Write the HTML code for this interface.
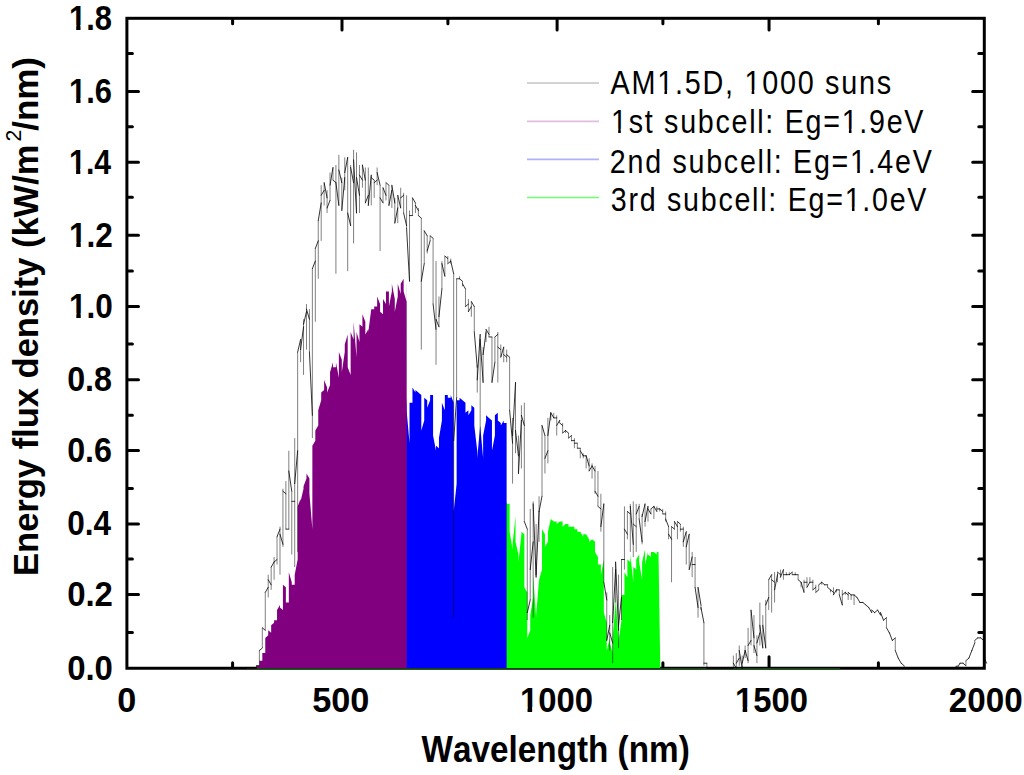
<!DOCTYPE html>
<html><head><meta charset="utf-8"><style>
html,body{margin:0;padding:0;background:#fff;width:1024px;height:775px;overflow:hidden}
svg{display:block}
text{font-family:"Liberation Sans",sans-serif;font-kerning:none;fill:#000}
</style></head><body>
<svg width="1024" height="775" viewBox="0 0 1024 775">
<rect width="1024" height="775" fill="#fff"/>
<rect x="126.9" y="18.3" width="857.4" height="649.95" fill="none" stroke="#000" stroke-width="3"/>
<path d="M232.6,666.75V662.75M232.6,19.8V23.8M342,666.75V656.65M342,19.8V29.9M447.9,666.75V662.75M447.9,19.8V23.8M557.1,666.75V656.65M557.1,19.8V29.9M662.9,666.75V662.75M662.9,19.8V23.8M769.05,666.75V656.65M769.05,19.8V29.9M878.4,666.75V662.75M878.4,19.8V23.8M128.4,632.6H132.4M982.8,632.6H978.8M128.4,594.5H138.5M982.8,594.5H972.7M128.4,558.9H132.4M982.8,558.9H978.8M128.4,523.9H138.5M982.8,523.9H972.7M128.4,488.4H132.4M982.8,488.4H978.8M128.4,450.4H138.5M982.8,450.4H972.7M128.4,415.2H132.4M982.8,415.2H978.8M128.4,379.7H138.5M982.8,379.7H972.7M128.4,344.1H132.4M982.8,344.1H978.8M128.4,306.5H138.5M982.8,306.5H972.7M128.4,270.9H132.4M982.8,270.9H978.8M128.4,235.3H138.5M982.8,235.3H972.7M128.4,197.2H132.4M982.8,197.2H978.8M128.4,162.3H138.5M982.8,162.3H972.7M128.4,126.7H132.4M982.8,126.7H978.8M128.4,91.5H138.5M982.8,91.5H972.7M128.4,53.4H132.4M982.8,53.4H978.8" stroke="#000" stroke-width="3" stroke-linecap="round" fill="none"/>
<path d="M505.96,668.25 L505.96,503.87 L506.68,501.34 L506.68,508.92 L506.68,508.92 L506.68,506.39 L506.68,503.87 L509.62,503.87 L509.62,503.87 L509.62,506.39 L509.62,513.98 L509.62,516.51 L509.62,524.1 L509.62,531.68 L512.56,549.39 L512.56,539.27 L512.56,569.62 L512.56,534.21 L512.56,559.5 L512.56,546.86 L512.56,544.33 L515.51,516.51 L515.51,521.57 L515.51,529.15 L515.51,551.92 L515.51,549.39 L515.51,541.8 L518.45,554.45 L518.45,546.86 L518.45,541.8 L518.45,554.45 L518.45,554.45 L518.45,544.33 L518.45,562.03 L521.4,534.21 L521.4,559.5 L521.4,531.68 L521.4,531.68 L521.4,524.1 L521.4,539.27 L521.4,531.68 L524.34,534.21 L524.34,536.74 L524.34,539.27 L524.34,521.57 L524.34,559.5 L524.34,564.56 L524.34,587.32 L527.28,592.38 L527.28,612.61 L527.28,622.73 L527.28,640.43 L527.28,620.2 L527.28,637.9 L527.28,637.9 L530.23,630.32 L530.23,592.38 L530.23,579.74 L530.23,597.44 L530.23,592.38 L530.23,615.14 L530.23,615.14 L533.17,597.44 L533.17,630.32 L533.17,597.44 L533.17,615.14 L533.17,574.68 L533.17,640.43 L533.17,574.68 L536.12,617.67 L536.12,602.5 L536.12,587.32 L536.12,602.5 L536.12,605.02 L536.12,615.14 L539.06,579.74 L539.06,594.91 L539.06,587.32 L539.06,579.74 L539.06,582.26 L539.06,569.62 L539.06,579.74 L542,569.62 L542,569.62 L542,569.62 L542,541.8 L542,534.21 L542,544.33 L542,529.15 L544.95,534.21 L544.95,549.39 L544.95,556.97 L544.95,551.92 L544.95,556.97 L544.95,544.33 L544.95,546.86 L547.89,541.8 L547.89,549.39 L547.89,529.15 L547.89,531.68 L547.89,536.74 L547.89,524.1 L547.89,531.68 L550.84,519.04 L550.84,521.57 L550.84,521.57 L550.84,519.04 L550.84,524.1 L550.84,519.04 L550.84,519.04 L553.78,521.57 L553.78,519.04 L553.78,519.04 L553.78,519.04 L553.78,521.57 L553.78,521.57 L553.78,521.57 L556.72,521.57 L556.72,519.04 L556.72,521.57 L556.72,521.57 L556.72,521.57 L556.72,531.68 L556.72,524.1 L559.67,521.57 L559.67,521.57 L559.67,521.57 L559.67,521.57 L559.67,521.57 L559.67,521.57 L562.61,521.57 L562.61,521.57 L562.61,524.1 L562.61,524.1 L562.61,524.1 L562.61,521.57 L562.61,526.63 L565.56,524.1 L565.56,524.1 L565.56,526.63 L565.56,526.63 L565.56,526.63 L565.56,524.1 L565.56,524.1 L568.5,524.1 L568.5,524.1 L568.5,526.63 L568.5,524.1 L568.5,526.63 L568.5,526.63 L568.5,526.63 L571.44,526.63 L571.44,526.63 L571.44,526.63 L571.44,526.63 L571.44,529.15 L571.44,526.63 L571.44,526.63 L574.39,526.63 L574.39,526.63 L574.39,529.15 L574.39,529.15 L574.39,529.15 L574.39,531.68 L574.39,529.15 L577.33,529.15 L577.33,529.15 L577.33,529.15 L577.33,529.15 L577.33,529.15 L577.33,531.68 L577.33,531.68 L580.28,531.68 L580.28,531.68 L580.28,531.68 L580.28,531.68 L580.28,536.74 L580.28,531.68 L583.22,536.74 L583.22,531.68 L583.22,534.21 L583.22,531.68 L583.22,534.21 L583.22,536.74 L583.22,534.21 L586.16,534.21 L586.16,541.8 L586.16,536.74 L586.16,534.21 L586.16,534.21 L586.16,536.74 L586.16,534.21 L589.11,539.27 L589.11,534.21 L589.11,536.74 L589.11,536.74 L589.11,536.74 L589.11,539.27 L589.11,541.8 L592.05,539.27 L592.05,536.74 L592.05,541.8 L592.05,539.27 L592.05,546.86 L592.05,544.33 L592.05,539.27 L595,541.8 L595,546.86 L595,539.27 L595,539.27 L595,554.45 L595,549.39 L595,551.92 L597.94,556.97 L597.94,539.27 L597.94,556.97 L597.94,554.45 L597.94,559.5 L597.94,556.97 L597.94,564.56 L600.88,564.56 L600.88,564.56 L600.88,554.45 L600.88,579.74 L600.88,559.5 L600.88,574.68 L600.88,574.68 L603.83,559.5 L603.83,592.38 L603.83,574.68 L603.83,607.55 L603.83,599.97 L603.83,612.61 L606.77,622.73 L606.77,650.55 L606.77,617.67 L606.77,642.96 L606.77,635.37 L606.77,625.26 L606.77,650.55 L609.72,637.9 L609.72,642.96 L609.72,635.37 L609.72,655.61 L609.72,632.84 L609.72,645.49 L609.72,642.96 L612.66,653.08 L612.66,599.97 L612.66,615.14 L612.66,632.84 L612.66,658.13 L612.66,665.72 L612.66,637.9 L615.6,602.5 L615.6,620.2 L615.6,599.97 L615.6,610.08 L615.6,622.73 L615.6,615.14 L615.6,594.91 L618.55,642.96 L618.55,635.37 L618.55,630.32 L618.55,655.61 L618.55,605.02 L618.55,617.67 L618.55,640.43 L621.49,620.2 L621.49,610.08 L621.49,612.61 L621.49,635.37 L621.49,594.91 L621.49,602.5 L621.49,594.91 L624.44,594.91 L624.44,589.85 L624.44,599.97 L624.44,587.32 L624.44,584.79 L624.44,556.97 L624.44,572.15 L627.38,577.21 L627.38,579.74 L627.38,572.15 L627.38,569.62 L627.38,567.09 L627.38,559.5 L630.32,562.03 L630.32,559.5 L630.32,559.5 L630.32,587.32 L630.32,559.5 L630.32,554.45 L630.32,554.45 L633.27,582.26 L633.27,551.92 L633.27,562.03 L633.27,559.5 L633.27,589.85 L633.27,562.03 L633.27,567.09 L636.21,569.62 L636.21,551.92 L636.21,556.97 L636.21,587.32 L636.21,567.09 L636.21,556.97 L636.21,559.5 L639.16,554.45 L639.16,556.97 L639.16,554.45 L639.16,559.5 L639.16,562.03 L639.16,551.92 L639.16,562.03 L642.1,579.74 L642.1,559.5 L642.1,562.03 L642.1,562.03 L642.1,562.03 L642.1,579.74 L642.1,562.03 L645.04,549.39 L645.04,562.03 L645.04,562.03 L645.04,567.09 L645.04,556.97 L645.04,564.56 L645.04,564.56 L647.99,551.92 L647.99,562.03 L647.99,562.03 L647.99,551.92 L647.99,554.45 L647.99,554.45 L650.93,556.97 L650.93,554.45 L650.93,551.92 L650.93,556.97 L650.93,556.97 L650.93,556.97 L650.93,551.92 L653.88,551.92 L653.88,559.5 L653.88,551.92 L653.88,551.92 L653.88,551.92 L653.88,549.39 L653.88,551.92 L656.82,554.45 L656.82,549.39 L656.82,551.92 L656.82,549.39 L656.82,551.92 L656.82,549.39 L656.82,551.92 L658.49,551.92 L660.3,668.25Z" fill="#00ff00"/>
<path d="M406.04,668.25 L406.04,397.65 L406.58,405.23 L406.58,397.65 L406.58,400.18 L406.58,410.29 L409.52,443.17 L409.52,430.52 L409.52,402.7 L409.52,402.7 L409.52,400.18 L409.52,400.18 L409.52,402.7 L412.47,402.7 L412.47,397.65 L412.47,392.59 L412.47,392.59 L412.47,395.12 L412.47,392.59 L412.47,387.53 L415.41,392.59 L415.41,392.59 L415.41,395.12 L415.41,392.59 L415.41,392.59 L415.41,395.12 L415.41,390.06 L418.36,392.59 L418.36,390.06 L418.36,392.59 L418.36,392.59 L418.36,392.59 L418.36,390.06 L418.36,392.59 L421.3,395.12 L421.3,395.12 L421.3,400.18 L421.3,473.52 L421.3,443.17 L421.3,440.64 L421.3,430.52 L424.24,420.41 L424.24,412.82 L424.24,412.82 L424.24,415.35 L424.24,410.29 L424.24,410.29 L424.24,397.65 L427.19,400.18 L427.19,405.23 L427.19,407.76 L427.19,410.29 L427.19,410.29 L427.19,407.76 L430.13,400.18 L430.13,397.65 L430.13,397.65 L430.13,397.65 L430.13,400.18 L430.13,397.65 L430.13,395.12 L433.08,395.12 L433.08,397.65 L433.08,400.18 L433.08,397.65 L433.08,405.23 L433.08,402.7 L433.08,435.58 L436.02,450.76 L436.02,473.52 L436.02,460.87 L436.02,438.11 L436.02,407.76 L436.02,425.47 L436.02,445.7 L438.96,448.23 L438.96,438.11 L438.96,438.11 L438.96,445.7 L438.96,445.7 L438.96,428 L438.96,438.11 L441.91,420.41 L441.91,412.82 L441.91,402.7 L441.91,405.23 L441.91,407.76 L441.91,407.76 L441.91,402.7 L444.85,410.29 L444.85,405.23 L444.85,405.23 L444.85,405.23 L444.85,397.65 L444.85,395.12 L444.85,395.12 L447.8,395.12 L447.8,395.12 L447.8,397.65 L447.8,397.65 L447.8,397.65 L447.8,397.65 L450.74,397.65 L450.74,397.65 L450.74,392.59 L450.74,395.12 L450.74,397.65 L450.74,397.65 L450.74,395.12 L453.68,402.7 L453.68,607.55 L453.68,632.84 L453.68,513.98 L453.68,582.26 L453.68,546.86 L453.68,511.45 L456.63,483.63 L456.63,448.23 L456.63,415.35 L456.63,412.82 L456.63,405.23 L456.63,402.7 L456.63,400.18 L459.57,400.18 L459.57,400.18 L459.57,400.18 L459.57,397.65 L459.57,400.18 L459.57,400.18 L459.57,397.65 L462.52,400.18 L462.52,400.18 L462.52,400.18 L462.52,400.18 L462.52,402.7 L462.52,400.18 L462.52,400.18 L465.46,402.7 L465.46,405.23 L465.46,405.23 L465.46,412.82 L465.46,410.29 L465.46,412.82 L465.46,412.82 L468.4,410.29 L468.4,410.29 L468.4,415.35 L468.4,410.29 L468.4,405.23 L468.4,410.29 L468.4,415.35 L471.35,410.29 L471.35,410.29 L471.35,415.35 L471.35,412.82 L471.35,417.88 L471.35,405.23 L474.29,407.76 L474.29,410.29 L474.29,415.35 L474.29,415.35 L474.29,415.35 L474.29,420.41 L474.29,425.47 L477.24,450.76 L477.24,450.76 L477.24,465.93 L477.24,460.87 L477.24,468.46 L477.24,448.23 L477.24,458.34 L480.18,425.47 L480.18,435.58 L480.18,503.87 L480.18,438.11 L480.18,430.52 L480.18,438.11 L480.18,425.47 L483.12,458.34 L483.12,438.11 L483.12,443.17 L483.12,440.64 L483.12,445.7 L483.12,430.52 L483.12,435.58 L486.07,420.41 L486.07,425.47 L486.07,417.88 L486.07,420.41 L486.07,417.88 L486.07,415.35 L486.07,415.35 L489.01,417.88 L489.01,415.35 L489.01,420.41 L489.01,412.82 L489.01,412.82 L489.01,417.88 L489.01,417.88 L491.96,420.41 L491.96,443.17 L491.96,420.41 L491.96,422.94 L491.96,422.94 L491.96,450.76 L494.9,435.58 L494.9,420.41 L494.9,415.35 L494.9,415.35 L494.9,415.35 L494.9,415.35 L494.9,415.35 L497.84,412.82 L497.84,410.29 L497.84,415.35 L497.84,420.41 L497.84,448.23 L497.84,430.52 L497.84,420.41 L500.79,422.94 L500.79,417.88 L500.79,420.41 L500.79,417.88 L500.79,417.88 L500.79,422.94 L500.79,425.47 L503.73,420.41 L503.73,417.88 L503.73,417.88 L503.73,422.94 L503.73,420.41 L503.73,428 L503.73,422.94 L506.68,422.94 L506.68,422.94 L506.68,417.88 L506.61,425.47 L506.61,668.25Z" fill="#0000ff"/>
<path d="M255.51,668.25 L255.51,668.25 L256.44,668.25 L256.44,668.25 L256.44,668.25 L256.44,668.25 L256.44,668.25 L256.44,668.25 L256.44,668.25 L256.44,668.25 L256.44,668.25 L256.44,668.25 L256.44,665.72 L259.38,665.72 L259.38,665.72 L259.38,665.72 L259.38,665.72 L259.38,665.72 L259.38,665.72 L259.38,665.72 L259.38,665.72 L259.38,663.19 L259.38,663.19 L259.38,660.66 L259.38,660.66 L259.38,660.66 L262.32,660.66 L262.32,660.66 L262.32,660.66 L262.32,658.13 L262.32,658.13 L262.32,658.13 L262.32,658.13 L262.32,658.13 L262.32,655.61 L262.32,655.61 L262.32,653.08 L262.32,653.08 L262.32,653.08 L262.32,653.08 L265.27,653.08 L265.27,650.55 L265.27,648.02 L265.27,648.02 L265.27,648.02 L265.27,650.55 L265.27,650.55 L265.27,650.55 L265.27,648.02 L265.27,645.49 L265.27,645.49 L265.27,645.49 L265.27,640.43 L265.27,637.9 L268.21,635.37 L268.21,635.37 L268.21,635.37 L268.21,637.9 L268.21,637.9 L268.21,632.84 L268.21,627.79 L268.21,627.79 L268.21,630.32 L268.21,632.84 L268.21,632.84 L268.21,630.32 L268.21,630.32 L268.21,630.32 L271.16,632.84 L271.16,630.32 L271.16,627.79 L271.16,627.79 L271.16,627.79 L271.16,630.32 L271.16,632.84 L271.16,635.37 L271.16,632.84 L271.16,627.79 L271.16,627.79 L271.16,625.26 L271.16,625.26 L274.1,622.73 L274.1,622.73 L274.1,625.26 L274.1,625.26 L274.1,622.73 L274.1,620.2 L274.1,620.2 L274.1,622.73 L274.1,627.79 L274.1,630.32 L274.1,622.73 L274.1,620.2 L274.1,622.73 L274.1,620.2 L277.04,620.2 L277.04,620.2 L277.04,620.2 L277.04,620.2 L277.04,622.73 L277.04,620.2 L277.04,615.14 L277.04,610.08 L277.04,612.61 L277.04,615.14 L277.04,615.14 L277.04,617.67 L277.04,615.14 L277.04,610.08 L279.99,605.02 L279.99,605.02 L279.99,605.02 L279.99,605.02 L279.99,610.08 L279.99,612.61 L279.99,620.2 L279.99,617.67 L279.99,622.73 L279.99,625.26 L279.99,617.67 L279.99,607.55 L279.99,602.5 L279.99,607.55 L282.93,610.08 L282.93,612.61 L282.93,610.08 L282.93,602.5 L282.93,599.97 L282.93,602.5 L282.93,599.97 L282.93,599.97 L282.93,597.44 L282.93,589.85 L282.93,584.79 L282.93,584.79 L282.93,584.79 L285.88,587.32 L285.88,592.38 L285.88,592.38 L285.88,587.32 L285.88,582.26 L285.88,579.74 L285.88,587.32 L285.88,587.32 L285.88,582.26 L285.88,587.32 L285.88,592.38 L285.88,594.91 L285.88,602.5 L285.88,602.5 L288.82,602.5 L288.82,597.44 L288.82,589.85 L288.82,587.32 L288.82,587.32 L288.82,582.26 L288.82,569.62 L288.82,562.03 L288.82,564.56 L288.82,577.21 L288.82,584.79 L288.82,579.74 L288.82,574.68 L288.82,572.15 L291.76,582.26 L291.76,594.91 L291.76,605.02 L291.76,610.08 L291.76,612.61 L291.76,602.5 L291.76,589.85 L291.76,582.26 L291.76,584.79 L291.76,587.32 L291.76,584.79 L291.76,584.79 L291.76,584.79 L291.76,584.79 L294.71,584.79 L294.71,577.21 L294.71,567.09 L294.71,562.03 L294.71,562.03 L294.71,554.45 L294.71,554.45 L294.71,562.03 L294.71,579.74 L294.71,605.02 L294.71,617.67 L294.71,602.5 L294.71,574.68 L297.65,559.5 L297.65,551.92 L297.65,564.56 L297.65,592.38 L297.65,610.08 L297.65,582.26 L297.65,551.92 L297.65,529.15 L297.65,519.04 L297.65,513.98 L297.65,513.98 L297.65,506.39 L300.6,498.81 L300.6,503.87 L300.6,501.34 L300.6,503.87 L300.6,506.39 L300.6,508.92 L300.6,501.34 L303.54,488.69 L303.54,513.98 L303.54,496.28 L303.54,483.63 L303.54,491.22 L303.54,491.22 L303.54,486.16 L306.48,478.58 L306.48,483.63 L306.48,488.69 L306.48,481.1 L306.48,496.28 L306.48,473.52 L306.48,473.52 L309.43,478.58 L309.43,481.1 L309.43,473.52 L309.43,478.58 L309.43,483.63 L309.43,481.1 L309.43,493.75 L312.37,529.15 L312.37,541.8 L312.37,455.81 L312.37,470.99 L312.37,483.63 L312.37,465.93 L312.37,445.7 L315.32,440.64 L315.32,465.93 L315.32,473.52 L315.32,445.7 L315.32,448.23 L315.32,430.52 L318.26,425.47 L318.26,430.52 L318.26,422.94 L318.26,445.7 L318.26,415.35 L318.26,410.29 L318.26,410.29 L321.2,400.18 L321.2,390.06 L321.2,400.18 L321.2,420.41 L321.2,400.18 L321.2,402.7 L321.2,392.59 L324.15,390.06 L324.15,395.12 L324.15,395.12 L324.15,397.65 L324.15,385 L324.15,382.47 L324.15,379.94 L327.09,387.53 L327.09,390.06 L327.09,385 L327.09,395.12 L327.09,382.47 L327.09,382.47 L327.09,392.59 L330.04,385 L330.04,369.83 L330.04,379.94 L330.04,377.42 L330.04,367.3 L330.04,374.89 L330.04,372.36 L332.98,362.24 L332.98,367.3 L332.98,362.24 L332.98,359.71 L332.98,359.71 L332.98,362.24 L332.98,367.3 L335.92,367.3 L335.92,422.94 L335.92,392.59 L335.92,369.83 L335.92,385 L335.92,352.12 L335.92,362.24 L338.87,377.42 L338.87,354.65 L338.87,362.24 L338.87,342.01 L338.87,357.18 L338.87,352.12 L341.81,359.71 L341.81,359.71 L341.81,359.71 L341.81,367.3 L341.81,367.3 L341.81,352.12 L341.81,372.36 L344.76,352.12 L344.76,336.95 L344.76,352.12 L344.76,357.18 L344.76,342.01 L344.76,349.6 L344.76,344.54 L347.7,334.42 L347.7,354.65 L347.7,359.71 L347.7,349.6 L347.7,347.07 L347.7,405.23 L347.7,367.3 L350.64,374.89 L350.64,347.07 L350.64,344.54 L350.64,336.95 L350.64,354.65 L350.64,329.36 L350.64,331.89 L353.59,339.48 L353.59,379.94 L353.59,339.48 L353.59,321.78 L353.59,334.42 L353.59,316.72 L353.59,321.78 L356.53,357.18 L356.53,334.42 L356.53,329.36 L356.53,314.19 L356.53,339.48 L356.53,321.78 L356.53,331.89 L359.48,342.01 L359.48,354.65 L359.48,324.31 L359.48,329.36 L359.48,316.72 L359.48,324.31 L362.42,326.84 L362.42,321.78 L362.42,331.89 L362.42,319.25 L362.42,321.78 L362.42,321.78 L362.42,314.19 L365.36,321.78 L365.36,314.19 L365.36,311.66 L365.36,316.72 L365.36,324.31 L365.36,316.72 L365.36,334.42 L368.31,329.36 L368.31,309.13 L368.31,324.31 L368.31,311.66 L368.31,316.72 L368.31,314.19 L368.31,331.89 L371.25,309.13 L371.25,311.66 L371.25,321.78 L371.25,319.25 L371.25,329.36 L371.25,311.66 L371.25,309.13 L374.2,309.13 L374.2,316.72 L374.2,319.25 L374.2,309.13 L374.2,319.25 L374.2,314.19 L374.2,306.6 L377.14,306.6 L377.14,299.02 L377.14,293.96 L377.14,293.96 L377.14,296.49 L377.14,304.07 L377.14,296.49 L380.08,304.07 L380.08,352.12 L380.08,331.89 L380.08,309.13 L380.08,314.19 L380.08,309.13 L380.08,311.66 L383.03,314.19 L383.03,304.07 L383.03,301.55 L383.03,304.07 L383.03,304.07 L383.03,299.02 L385.97,304.07 L385.97,309.13 L385.97,301.55 L385.97,293.96 L385.97,293.96 L385.97,293.96 L385.97,291.43 L388.92,291.43 L388.92,293.96 L388.92,293.96 L388.92,296.49 L388.92,291.43 L388.92,293.96 L388.92,306.6 L391.86,291.43 L391.86,301.55 L391.86,304.07 L391.86,291.43 L391.86,288.9 L391.86,286.37 L391.86,283.84 L394.8,299.02 L394.8,299.02 L394.8,301.55 L394.8,301.55 L394.8,301.55 L394.8,291.43 L394.8,311.66 L397.75,296.49 L397.75,301.55 L397.75,293.96 L397.75,309.13 L397.75,283.84 L397.75,291.43 L397.75,283.84 L400.69,293.96 L400.69,278.78 L400.69,276.25 L400.69,276.25 L400.69,283.84 L400.69,283.84 L400.69,283.84 L403.64,278.78 L403.64,278.78 L403.64,276.25 L403.64,286.37 L403.64,286.37 L403.64,291.43 L406.58,301.55 L406.58,299.02 L406.58,276.25 L406.58,288.9 L406.68,281.31 L406.68,668.25Z" fill="#800080"/>
<line x1="246.94" y1="668.5" x2="840" y2="668.5" stroke="#005000" stroke-width="1"/>
<path d="M256.44,665.72V668.25M259.38,650.55V665.72M262.32,627.79V648.02M265.27,592.38V630.32M268.21,574.68V597.44M271.16,567.09V589.85M274.1,556.97V579.74M277.04,536.74V564.56M279.99,526.63V574.68M282.93,488.69V546.86M285.88,481.1V529.15M288.82,450.76V529.15M291.76,491.22V554.45M294.71,438.11V567.09M297.65,352.12V551.92M300.6,339.48V362.24M303.54,319.25V374.89M306.48,304.07V349.6M309.43,309.13V352.12M312.37,268.67V438.11M315.32,248.44V321.78M318.26,220.62V278.78M321.2,185.21V240.85M324.15,182.68V205.44M327.09,190.27V213.03M330.04,172.57V200.38M332.98,167.51V180.15M335.92,164.98V273.73M338.87,154.86V205.44M341.81,177.62V210.5M344.76,157.39V190.27M347.7,157.39V271.2M350.64,164.98V225.68M353.59,149.81V243.38M356.53,152.33V213.03M359.48,164.98V213.03M362.42,164.98V187.74M365.36,167.51V202.91M368.31,167.51V205.44M371.25,175.1V205.44M374.2,180.15V197.86M377.14,167.51V185.21M380.08,185.21V250.97M383.03,187.74V202.91M385.97,182.68V200.38M388.92,185.21V205.44M391.86,185.21V207.97M394.8,197.86V223.15M397.75,195.33V223.15M400.69,187.74V207.97M403.64,192.8V213.03M406.58,195.33V228.2M409.52,210.5V281.31M412.47,197.86V215.56M415.41,202.91V213.03M418.36,207.97V215.56M421.3,218.09V349.6M424.24,230.73V263.61M427.19,235.79V253.49M430.13,235.79V240.85M433.08,238.32V304.07M436.02,261.08V364.77M438.96,296.49V326.84M441.91,261.08V288.9M444.85,256.02V276.25M447.8,256.02V263.61M450.74,258.55V263.61M453.68,273.73V617.67M456.63,278.78V397.65M459.57,276.25V278.78M462.52,281.31V286.37M465.46,288.9V306.6M468.4,299.02V311.66M471.35,301.55V316.72M474.29,306.6V331.89M477.24,364.77V392.59M480.18,334.42V443.17M483.12,347.07V382.47M486.07,329.36V342.01M489.01,326.84V336.95M491.96,336.95V382.47M494.9,336.95V362.24M497.84,331.89V382.47M500.79,344.54V357.18M503.73,347.07V362.24M506.68,349.6V362.24M509.62,357.18V410.29M512.56,417.88V483.63M515.51,382.47V453.28M518.45,435.58V473.52M521.4,405.23V468.46M524.34,402.7V521.57M527.28,529.15V620.2M530.23,508.92V599.97M533.17,501.34V617.67M536.12,524.1V577.21M539.06,496.28V541.8M542,425.47V496.28M544.95,435.58V473.52M547.89,417.88V463.4M550.84,412.82V420.41M553.78,412.82V417.88M556.72,415.35V435.58M559.67,420.41V422.94M562.61,422.94V433.05M565.56,430.52V433.05M568.5,433.05V438.11M571.44,435.58V440.64M574.39,438.11V448.23M577.33,443.17V448.23M580.28,448.23V458.34M583.22,453.28V458.34M586.16,455.81V468.46M589.11,458.34V470.99M592.05,463.4V478.58M595,465.93V493.75M597.94,470.99V506.39M600.88,493.75V531.68M603.83,503.87V582.26M606.77,592.38V640.43M609.72,615.14V650.55M612.66,567.09V663.19M615.6,562.03V602.5M618.55,574.68V648.02M621.49,559.5V620.2M624.44,506.39V569.62M627.38,511.45V539.27M630.32,503.87V551.92M633.27,501.34V556.97M636.21,503.87V551.92M639.16,503.87V519.04M642.1,513.98V544.33M645.04,503.87V526.63M647.99,506.39V521.57M650.93,508.92V513.98M653.88,506.39V519.04M656.82,506.39V511.45M659.76,508.92V511.45M662.71,508.92V513.98M665.65,511.45V521.57M668.6,526.63V539.27M671.54,526.63V582.26M674.48,521.57V529.15M677.43,521.57V539.27M680.37,524.1V531.68M683.32,526.63V546.86M686.26,531.68V564.56M689.2,534.21V569.62M692.15,551.92V577.21M695.09,556.97V587.32M698.04,587.32V617.67M700.98,605.02V610.08M703.92,622.73V665.72M706.87,663.19V668.25M733.36,655.61V668.25M736.31,653.08V668.25M739.25,645.49V665.72M742.2,655.61V668.25M745.14,645.49V658.13M748.08,627.79V663.19M751.03,610.08V645.49M753.97,615.14V653.08M756.92,635.37V663.19M759.86,602.5V645.49M762.8,615.14V648.02M765.75,599.97V648.02M768.69,579.74V610.08M771.64,574.68V612.61M774.58,572.15V602.5M777.52,572.15V582.26M780.47,569.62V577.21M783.41,569.62V579.74M786.36,572.15V574.68M789.3,572.15V574.68M792.24,572.15V574.68M795.19,572.15V574.68M798.13,574.68V579.74M801.08,582.26V587.32M804.02,579.74V592.38M806.96,577.21V587.32M809.91,577.21V582.26M812.85,579.74V589.85M815.8,584.79V592.38M818.74,584.79V589.85M821.68,582.26V584.79M827.57,584.79V587.32M830.52,589.85V592.38M833.46,587.32V594.91M836.4,589.85V592.38M839.35,589.85V594.91M842.29,589.85V605.02M845.24,592.38V594.91M848.18,592.38V599.97M851.12,594.91V599.97M854.07,594.91V605.02M871.73,610.08V612.61M880.56,612.61V615.14M886.45,617.67V627.79M895.28,637.9V650.55M904.12,665.72V668.25M957.11,665.72V668.25M965.94,660.66V665.72M974.77,640.43V642.96M983.6,640.43V655.61" fill="none" stroke="#000" stroke-width="0.5"/><path d="M247.6,668.25L250.55,668.25M250.55,668.25L253.49,668.25M253.49,668.25L256.44,668.25M256.44,665.72L259.38,665.72M259.38,650.55L262.32,648.02M262.32,627.79L265.27,630.32M265.27,592.38L268.21,587.32M268.21,579.74L271.16,584.79M271.16,567.09L274.1,562.03M274.1,562.03L277.04,559.5M277.04,536.74L279.99,529.15M279.99,534.21L282.93,544.33M282.93,491.22L285.88,493.75M285.88,529.15L288.82,529.15M288.82,470.99L291.76,491.22M291.76,501.34L294.71,501.34M294.71,483.63L297.65,450.76M297.65,352.12L300.6,339.48M300.6,349.6L303.54,326.84M303.54,324.31L306.48,311.66M306.48,309.13L309.43,319.25M309.43,352.12L312.37,415.35M312.37,268.67L315.32,261.08M315.32,248.44L318.26,240.85M318.26,220.62L321.2,202.91M321.2,195.33L324.15,190.27M324.15,182.68L327.09,197.86M327.09,207.97L330.04,200.38M330.04,185.21L332.98,167.51M332.98,180.15L335.92,182.68M335.92,182.68L338.87,205.44M338.87,170.04L341.81,182.68M341.81,210.5L344.76,177.62M344.76,172.57L347.7,157.39M347.7,213.03L350.64,225.68M350.64,167.51L353.59,182.68M353.59,159.92L356.53,213.03M356.53,177.62L359.48,195.33M359.48,175.1L362.42,180.15M362.42,164.98L365.36,180.15M365.36,202.91L368.31,195.33M368.31,205.44L371.25,175.1M371.25,177.62L374.2,180.15M374.2,182.68L377.14,180.15M377.14,172.57L380.08,185.21M380.08,197.86L383.03,202.91M383.03,187.74L385.97,195.33M385.97,182.68L388.92,185.21M388.92,205.44L391.86,190.27M391.86,185.21L394.8,202.91M394.8,223.15L397.75,207.97M397.75,195.33L400.69,207.97M400.69,197.86L403.64,195.33M403.64,213.03L406.58,225.68M406.58,228.2L409.52,281.31M409.52,215.56L412.47,215.56M412.47,197.86L415.41,202.91M415.41,205.44L418.36,210.5M418.36,215.56L421.3,218.09M421.3,281.31L424.24,263.61M424.24,230.73L427.19,235.79M427.19,250.97L430.13,240.85M430.13,235.79L433.08,238.32M433.08,304.07L436.02,329.36M436.02,319.25L438.96,326.84M438.96,316.72L441.91,288.9M441.91,263.61L444.85,276.25M444.85,256.02L447.8,258.55M447.8,263.61L450.74,261.08M450.74,261.08L453.68,273.73M453.68,440.64L456.63,397.65M456.63,278.78L459.57,278.78M459.57,278.78L462.52,281.31M462.52,283.84L465.46,288.9M465.46,306.6L468.4,304.07M468.4,311.66L471.35,306.6M471.35,301.55L474.29,306.6M474.29,331.89L477.24,367.3M477.24,379.94L480.18,334.42M480.18,339.48L483.12,382.47M483.12,354.65L486.07,331.89M486.07,329.36L489.01,334.42M489.01,336.95L491.96,336.95M491.96,382.47L494.9,362.24M494.9,336.95L497.84,334.42M497.84,347.07L500.79,349.6M500.79,357.18L503.73,347.07M503.73,354.65L506.68,357.18M506.68,354.65L509.62,357.18M509.62,410.29L512.56,443.17M512.56,435.58L515.51,382.47M515.51,430.52L518.45,455.81M518.45,473.52L521.4,420.41M521.4,415.35L524.34,425.47M524.34,521.57L527.28,529.15M527.28,612.61L530.23,599.97M530.23,569.62L533.17,541.8M533.17,503.87L536.12,577.21M536.12,574.68L539.06,511.45M539.06,511.45L542,496.28M542,425.47L544.95,435.58M544.95,458.34L547.89,450.76M547.89,435.58L550.84,412.82M550.84,412.82L553.78,417.88M553.78,417.88L556.72,417.88M556.72,425.47L559.67,420.41M559.67,422.94L562.61,425.47M562.61,433.05L565.56,430.52M565.56,430.52L568.5,433.05M568.5,438.11L571.44,435.58M571.44,440.64L574.39,440.64M574.39,443.17L577.33,443.17M577.33,448.23L580.28,448.23M580.28,450.76L583.22,455.81M583.22,455.81L586.16,455.81M586.16,455.81L589.11,465.93M589.11,470.99L592.05,465.93M592.05,465.93L595,470.99M595,491.22L597.94,496.28M597.94,506.39L600.88,508.92M600.88,526.63L603.83,503.87M603.83,582.26L606.77,599.97M606.77,640.43L609.72,625.26M609.72,632.84L612.66,642.96M612.66,622.73L615.6,569.62M615.6,562.03L618.55,630.32M618.55,625.26L621.49,597.44M621.49,559.5L624.44,559.5M624.44,529.15L627.38,534.21M627.38,511.45L630.32,513.98M630.32,506.39L633.27,544.33M633.27,524.1L636.21,526.63M636.21,513.98L639.16,506.39M639.16,519.04L642.1,541.8M642.1,516.51L645.04,503.87M645.04,521.57L647.99,506.39M647.99,508.92L650.93,513.98M650.93,508.92L653.88,506.39M653.88,506.39L656.82,511.45M656.82,508.92L659.76,508.92M659.76,508.92L662.71,511.45M662.71,513.98L665.65,513.98M665.65,519.04L668.6,526.63M668.6,534.21L671.54,539.27M671.54,526.63L674.48,529.15M674.48,521.57L677.43,526.63M677.43,521.57L680.37,524.1M680.37,529.15L683.32,529.15M683.32,541.8L686.26,531.68M686.26,546.86L689.2,534.21M689.2,569.62L692.15,556.97M692.15,564.56L695.09,564.56M695.09,587.32L698.04,607.55M698.04,587.32L700.98,605.02M700.98,607.55L703.92,622.73M703.92,663.19L706.87,663.19M706.87,668.25L709.81,668.25M709.81,668.25L712.76,668.25M712.76,668.25L715.7,668.25M715.7,668.25L718.64,668.25M718.64,668.25L721.59,668.25M721.59,668.25L724.53,668.25M724.53,668.25L727.48,668.25M727.48,668.25L730.42,668.25M730.42,668.25L733.36,668.25M733.36,663.19L736.31,668.25M736.31,663.19L739.25,658.13M739.25,650.55L742.2,668.25M742.2,663.19L745.14,650.55M745.14,650.55L748.08,660.66M748.08,645.49L751.03,640.43M751.03,610.08L753.97,637.9M753.97,645.49L756.92,655.61M756.92,642.96L759.86,632.84M759.86,625.26L762.8,648.02M762.8,625.26L765.75,648.02M765.75,605.02L768.69,597.44M768.69,579.74L771.64,574.68M771.64,579.74L774.58,582.26M774.58,589.85L777.52,574.68M777.52,572.15L780.47,574.68M780.47,577.21L783.41,569.62M783.41,574.68L786.36,574.68M786.36,574.68L789.3,574.68M789.3,574.68L792.24,572.15M792.24,574.68L795.19,574.68M795.19,574.68L798.13,574.68M798.13,579.74L801.08,582.26M801.08,582.26L804.02,592.38M804.02,582.26L806.96,582.26M806.96,587.32L809.91,582.26M809.91,582.26L812.85,582.26M812.85,589.85L815.8,587.32M815.8,592.38L818.74,589.85M818.74,584.79L821.68,582.26M821.68,582.26L824.63,584.79M824.63,584.79L827.57,584.79M827.57,587.32L830.52,589.85M830.52,589.85L833.46,592.38M833.46,594.91L836.4,589.85M836.4,589.85L839.35,589.85M839.35,594.91L842.29,605.02M842.29,594.91L845.24,592.38M845.24,592.38L848.18,594.91M848.18,592.38L851.12,594.91M851.12,594.91L854.07,594.91M854.07,594.91L857.01,597.44M857.01,597.44L859.96,602.5M859.96,602.5L862.9,602.5M862.9,602.5L865.84,605.02M865.84,605.02L868.79,607.55M868.79,607.55L871.73,612.61M871.73,610.08L874.68,612.61M874.68,612.61L877.62,610.08M877.62,610.08L880.56,615.14M880.56,612.61L883.51,620.2M883.51,620.2L886.45,617.67M886.45,627.79L889.4,632.84M889.4,632.84L892.34,640.43M892.34,640.43L895.28,637.9M895.28,650.55L898.23,658.13M898.23,658.13L901.17,663.19M901.17,663.19L904.12,665.72M904.12,668.25L907.06,668.25M907.06,668.25L910,668.25M910,668.25L912.95,668.25M912.95,668.25L915.89,668.25M915.89,668.25L918.84,668.25M918.84,668.25L921.78,668.25M921.78,668.25L924.72,668.25M924.72,668.25L927.67,668.25M927.67,668.25L930.61,668.25M930.61,668.25L933.56,668.25M933.56,668.25L936.5,668.25M936.5,668.25L939.44,668.25M939.44,668.25L942.39,668.25M942.39,668.25L945.33,668.25M945.33,668.25L948.28,668.25M948.28,668.25L951.22,668.25M951.22,668.25L954.16,668.25M954.16,668.25L957.11,665.72M957.11,668.25L960.05,663.19M960.05,663.19L963,663.19M963,663.19L965.94,665.72M965.94,660.66L968.88,658.13M968.88,658.13L971.83,650.55M971.83,650.55L974.77,642.96M974.77,640.43L977.72,637.9M977.72,637.9L980.66,637.9M980.66,637.9L983.6,640.43M983.6,655.61L986.55,663.19" fill="none" stroke="#000" stroke-width="0.8" stroke-linecap="round"/>
<g transform="translate(67.16,679.75) scale(0.9413,1)"><text style="font-weight:bold;font-size:35px">0.0</text></g><g transform="translate(67.16,606) scale(0.9413,1)"><text style="font-weight:bold;font-size:35px">0.2</text></g><g transform="translate(67.2,535.4) scale(0.9021,1)"><text style="font-weight:bold;font-size:35px">0.4</text></g><g transform="translate(67.18,461.9) scale(0.9213,1)"><text style="font-weight:bold;font-size:35px">0.6</text></g><g transform="translate(67.18,391.2) scale(0.9213,1)"><text style="font-weight:bold;font-size:35px">0.8</text></g><g transform="translate(69,318) scale(0.9022,1)"><text style="font-weight:bold;font-size:35px">1.0</text><rect x="0.67" y="-4.87" width="7.45" height="6.37" fill="#fff"/><rect x="13.02" y="-4.87" width="7.06" height="6.37" fill="#fff"/></g><g transform="translate(69,246.8) scale(0.9022,1)"><text style="font-weight:bold;font-size:35px">1.2</text><rect x="0.67" y="-4.87" width="7.45" height="6.37" fill="#fff"/><rect x="13.02" y="-4.87" width="7.06" height="6.37" fill="#fff"/></g><g transform="translate(69.07,173.8) scale(0.8638,1)"><text style="font-weight:bold;font-size:35px">1.4</text><rect x="0.67" y="-4.87" width="7.45" height="6.37" fill="#fff"/><rect x="13.02" y="-4.87" width="7.06" height="6.37" fill="#fff"/></g><g transform="translate(69.03,103) scale(0.8826,1)"><text style="font-weight:bold;font-size:35px">1.6</text><rect x="0.67" y="-4.87" width="7.45" height="6.37" fill="#fff"/><rect x="13.02" y="-4.87" width="7.06" height="6.37" fill="#fff"/></g><g transform="translate(69.03,29.8) scale(0.8826,1)"><text style="font-weight:bold;font-size:35px">1.8</text><rect x="0.67" y="-4.87" width="7.45" height="6.37" fill="#fff"/><rect x="13.02" y="-4.87" width="7.06" height="6.37" fill="#fff"/></g><g transform="translate(117.32,712.1) scale(0.9765,1)"><text style="font-weight:bold;font-size:35px">0</text></g><g transform="translate(312.22,712.1) scale(0.9804,1)"><text style="font-weight:bold;font-size:35px">500</text></g><g transform="translate(519.92,712.1) scale(0.9387,1)"><text style="font-weight:bold;font-size:35px">1000</text><rect x="0.67" y="-4.87" width="7.45" height="6.37" fill="#fff"/><rect x="13.02" y="-4.87" width="7.06" height="6.37" fill="#fff"/></g><g transform="translate(735.03,712.1) scale(0.9373,1)"><text style="font-weight:bold;font-size:35px">1500</text><rect x="0.67" y="-4.87" width="7.45" height="6.37" fill="#fff"/><rect x="13.02" y="-4.87" width="7.06" height="6.37" fill="#fff"/></g><g transform="translate(948.85,712.1) scale(0.9487,1)"><text style="font-weight:bold;font-size:35px">2000</text></g><g transform="translate(421.6,762.2) scale(0.9197,1)"><text style="font-weight:bold;font-size:36.2px">Wavelength (nm)</text></g><g transform="translate(610.6,93.7) scale(0.8671,1)"><text style="font-weight:normal;letter-spacing:2.0px;font-size:33.2px">AM1.5D, 1000 suns</text><rect x="54.87" y="-3.78" width="7.23" height="5.28" fill="#fff"/><rect x="65.13" y="-3.78" width="7.02" height="5.28" fill="#fff"/><rect x="155.45" y="-3.78" width="7.23" height="5.28" fill="#fff"/><rect x="165.71" y="-3.78" width="7.02" height="5.28" fill="#fff"/></g><g transform="translate(611.01,132.5) scale(0.8632,1)"><text style="font-weight:normal;letter-spacing:2.0px;font-size:33.2px">1st subcell: Eg=1.9eV</text><rect x="1.07" y="-3.78" width="7.23" height="5.28" fill="#fff"/><rect x="11.33" y="-3.78" width="7.02" height="5.28" fill="#fff"/><rect x="268.37" y="-3.78" width="7.23" height="5.28" fill="#fff"/><rect x="278.63" y="-3.78" width="7.02" height="5.28" fill="#fff"/></g><g transform="translate(609.87,173.3) scale(0.8628,1)"><text style="font-weight:normal;letter-spacing:2.0px;font-size:33.2px">2nd subcell: Eg=1.4eV</text><rect x="279.48" y="-3.78" width="7.23" height="5.28" fill="#fff"/><rect x="289.74" y="-3.78" width="7.02" height="5.28" fill="#fff"/></g><g transform="translate(610.74,211.2) scale(0.8635,1)"><text style="font-weight:normal;letter-spacing:2.0px;font-size:33.2px">3rd subcell: Eg=1.0eV</text><rect x="272.07" y="-3.78" width="7.23" height="5.28" fill="#fff"/><rect x="282.33" y="-3.78" width="7.02" height="5.28" fill="#fff"/></g><text transform="translate(38.1,575.92) rotate(-90) scale(0.9613,1)" style="font-weight:bold;font-size:35.9px">Energy flux density (kW/m</text><text transform="translate(20.5,141.56) rotate(-90) scale(0.9600,1)" style="font-weight:normal;font-size:22px">2</text><text transform="translate(38.1,130.77) rotate(-90) scale(0.9740,1)" style="font-weight:bold;font-size:35.9px">/nm)</text>
<line x1="527" y1="83" x2="599" y2="83" stroke="#c4c4c4" stroke-width="1.6"/>
<line x1="527" y1="121.4" x2="599" y2="121.4" stroke="#e0bce0" stroke-width="1.6"/>
<line x1="527" y1="159.4" x2="599" y2="159.4" stroke="#b0b0ff" stroke-width="1.6"/>
<line x1="527" y1="197.5" x2="599" y2="197.5" stroke="#70ff70" stroke-width="1.6"/>
</svg>
</body></html>
